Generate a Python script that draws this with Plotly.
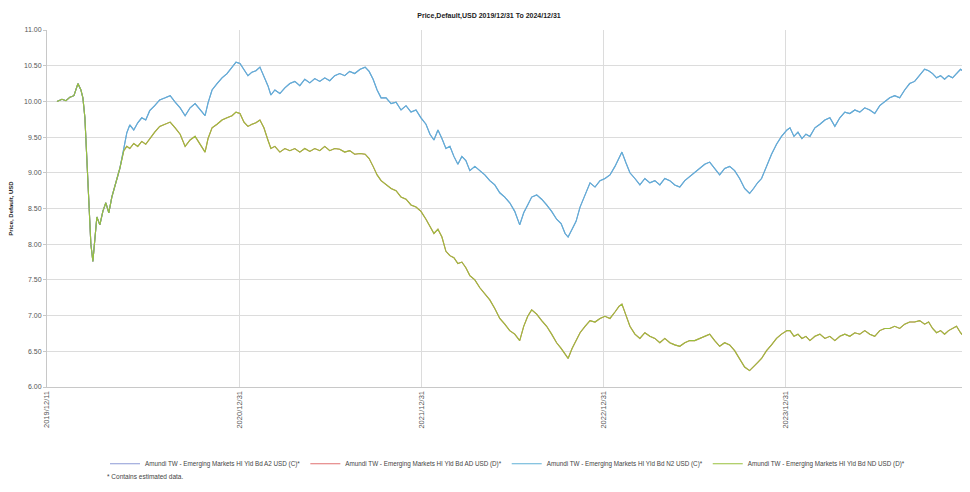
import plotly.graph_objects as go

title_text = "Price,Default,USD 2019/12/31 To 2024/12/31"
y_title = "Price, Default, USD"
series_names = [
    "Amundi TW - Emerging Markets HI Yld Bd A2 USD (C)*",
    "Amundi TW - Emerging Markets HI Yld Bd AD USD (D)*",
    "Amundi TW - Emerging Markets HI Yld Bd N2 USD (C)*",
    "Amundi TW - Emerging Markets HI Yld Bd ND USD (D)*",
]
footnote = "* Contains estimated data."

dates = [
    "2019-12-31", "2020-01-10", "2020-01-18", "2020-01-26", "2020-02-03", "2020-02-11", "2020-02-17",
    "2020-02-21", "2020-02-25", "2020-02-29", "2020-03-04", "2020-03-08", "2020-03-12", "2020-03-16",
    "2020-03-20", "2020-03-26", "2020-04-01", "2020-04-07", "2020-04-13", "2020-04-19", "2020-04-27",
    "2020-05-05",
    "2020-05-13", "2020-05-19", "2020-05-25", "2020-06-02", "2020-06-10", "2020-06-18", "2020-06-26",
    "2020-07-04", "2020-07-14", "2020-07-24", "2020-08-04", "2020-08-14", "2020-08-24", "2020-09-03",
    "2020-09-13", "2020-09-23", "2020-10-03", "2020-10-13", "2020-10-23", "2020-10-29", "2020-11-06",
    "2020-11-16", "2020-11-26", "2020-12-06", "2020-12-16", "2020-12-24", "2021-01-01", "2021-01-09",
    "2021-01-17", "2021-01-25", "2021-02-02", "2021-02-10", "2021-02-18", "2021-02-26", "2021-03-04",
    "2021-03-12", "2021-03-22", "2021-04-01", "2021-04-11", "2021-04-21", "2021-05-01", "2021-05-11",
    "2021-05-21", "2021-05-31", "2021-06-10", "2021-06-20", "2021-06-30", "2021-07-10", "2021-07-20",
    "2021-07-30", "2021-08-09", "2021-08-19", "2021-08-30", "2021-09-09", "2021-09-17", "2021-09-25",
    "2021-10-03", "2021-10-11", "2021-10-21", "2021-10-31", "2021-11-10", "2021-11-20", "2021-11-30",
    "2021-12-10", "2021-12-20", "2021-12-30", "2022-01-09", "2022-01-17", "2022-01-25", "2022-02-02",
    "2022-02-10", "2022-02-18", "2022-02-26", "2022-03-06", "2022-03-14", "2022-03-22", "2022-03-30",
    "2022-04-07", "2022-04-17", "2022-04-27", "2022-05-07", "2022-05-17", "2022-05-27", "2022-06-06",
    "2022-06-16", "2022-06-26", "2022-07-06", "2022-07-16", "2022-07-24", "2022-08-01", "2022-08-09",
    "2022-08-19", "2022-08-29", "2022-09-08", "2022-09-18", "2022-09-28", "2022-10-07", "2022-10-15",
    "2022-10-21", "2022-10-29", "2022-11-06", "2022-11-14", "2022-11-24", "2022-12-04", "2022-12-14",
    "2022-12-24", "2023-01-03", "2023-01-13", "2023-01-23", "2023-01-31", "2023-02-06", "2023-02-14",
    "2023-02-22", "2023-03-04", "2023-03-14", "2023-03-24", "2023-04-03", "2023-04-13", "2023-04-23",
    "2023-05-03", "2023-05-13", "2023-05-23", "2023-06-02", "2023-06-12", "2023-06-22", "2023-07-02",
    "2023-07-12", "2023-07-22", "2023-08-01", "2023-08-11", "2023-08-21", "2023-08-31", "2023-09-10",
    "2023-09-20", "2023-09-30", "2023-10-10", "2023-10-20", "2023-10-28", "2023-11-05", "2023-11-13",
    "2023-11-23", "2023-12-03", "2023-12-13", "2023-12-23", "2024-01-03", "2024-01-09", "2024-01-17",
    "2024-01-25", "2024-02-02", "2024-02-10", "2024-02-18", "2024-02-28", "2024-03-09", "2024-03-19",
    "2024-03-29", "2024-04-08", "2024-04-18", "2024-04-28", "2024-05-08", "2024-05-18", "2024-05-28",
    "2024-06-07", "2024-06-17", "2024-06-27", "2024-07-07", "2024-07-17", "2024-07-27", "2024-08-06",
    "2024-08-16", "2024-08-26", "2024-09-05", "2024-09-15", "2024-09-25", "2024-10-05", "2024-10-13",
    "2024-10-21", "2024-10-29", "2024-11-06", "2024-11-14", "2024-11-22", "2024-11-30", "2024-12-08",
    "2024-12-16", "2024-12-22", "2024-12-30",
]

# accumulating classes (A2 / N2)
acc_values = [
    10.00, 10.03, 10.01, 10.06, 10.08, 10.25, 10.16, 10.05, 9.77, 9.13, 8.42, 8.00, 7.76, 8.07,
    8.38, 8.27, 8.46, 8.58, 8.44, 8.66, 8.85, 9.06,
    9.34, 9.56, 9.67, 9.60, 9.70, 9.77, 9.74, 9.87, 9.94, 10.02, 10.05, 10.08, 9.99, 9.91,
    9.80, 9.91, 9.97, 9.88, 9.80, 9.98, 10.16, 10.25, 10.33, 10.39, 10.48, 10.55, 10.53, 10.45,
    10.36, 10.41, 10.43, 10.48, 10.36, 10.22, 10.09, 10.16, 10.11, 10.19, 10.25, 10.28, 10.22, 10.31,
    10.26, 10.32, 10.28, 10.33, 10.29, 10.36, 10.39, 10.36, 10.42, 10.39, 10.45, 10.48, 10.42, 10.31,
    10.16, 10.05, 10.05, 9.97, 9.99, 9.88, 9.94, 9.85, 9.88, 9.77, 9.68, 9.54, 9.46, 9.60,
    9.48, 9.34, 9.37, 9.23, 9.12, 9.23, 9.17, 9.03, 9.09, 9.03, 8.97, 8.89, 8.83, 8.72,
    8.66, 8.58, 8.46, 8.27, 8.44, 8.55, 8.66, 8.69, 8.63, 8.55, 8.46, 8.35, 8.29, 8.15,
    8.10, 8.21, 8.32, 8.52, 8.69, 8.86, 8.80, 8.89, 8.92, 8.97, 9.09, 9.20, 9.29, 9.14,
    9.00, 8.92, 8.83, 8.92, 8.86, 8.89, 8.83, 8.92, 8.89, 8.83, 8.80, 8.89, 8.95, 9.00,
    9.06, 9.12, 9.15, 9.06, 8.97, 9.06, 9.09, 9.03, 8.92, 8.78, 8.71, 8.78, 8.86, 8.92,
    9.09, 9.26, 9.40, 9.51, 9.60, 9.63, 9.51, 9.57, 9.48, 9.54, 9.51, 9.63, 9.68, 9.74,
    9.77, 9.65, 9.77, 9.85, 9.83, 9.88, 9.85, 9.91, 9.88, 9.83, 9.94, 9.99, 10.05, 10.08,
    10.05, 10.16, 10.25, 10.28, 10.36, 10.45, 10.43, 10.39, 10.33, 10.36, 10.31, 10.36, 10.33, 10.39,
    10.45, 10.42, 10.31,
]

# distributing classes (AD / ND)
dis_values = [
    10.00, 10.03, 10.01, 10.06, 10.08, 10.25, 10.16, 10.05, 9.77, 9.13, 8.42, 8.00, 7.76, 8.07,
    8.38, 8.27, 8.46, 8.58, 8.44, 8.66, 8.85, 9.06,
    9.31, 9.37, 9.34, 9.41, 9.37, 9.44, 9.40, 9.48, 9.57, 9.65, 9.68, 9.71, 9.63, 9.54,
    9.37, 9.46, 9.51, 9.40, 9.29, 9.48, 9.63, 9.68, 9.74, 9.77, 9.80, 9.85, 9.83, 9.71,
    9.65, 9.68, 9.70, 9.74, 9.63, 9.46, 9.34, 9.37, 9.29, 9.34, 9.31, 9.34, 9.29, 9.34,
    9.30, 9.34, 9.31, 9.37, 9.31, 9.34, 9.33, 9.29, 9.31, 9.26, 9.27, 9.26, 9.20, 9.09,
    8.97, 8.89, 8.83, 8.78, 8.75, 8.66, 8.63, 8.55, 8.52, 8.46, 8.35, 8.24, 8.15, 8.21,
    8.10, 7.90, 7.84, 7.81, 7.73, 7.75, 7.67, 7.56, 7.50, 7.39, 7.30, 7.22, 7.10, 6.96,
    6.88, 6.79, 6.74, 6.65, 6.85, 6.99, 7.08, 7.02, 6.93, 6.85, 6.74, 6.62, 6.54, 6.45,
    6.40, 6.54, 6.65, 6.76, 6.85, 6.93, 6.91, 6.96, 6.99, 6.96, 7.05, 7.13, 7.16, 6.99,
    6.85, 6.74, 6.68, 6.76, 6.71, 6.68, 6.62, 6.68, 6.62, 6.59, 6.57, 6.62, 6.65, 6.65,
    6.68, 6.71, 6.74, 6.65, 6.57, 6.62, 6.59, 6.51, 6.40, 6.28, 6.23, 6.28, 6.34, 6.40,
    6.51, 6.59, 6.68, 6.74, 6.79, 6.79, 6.71, 6.74, 6.68, 6.71, 6.65, 6.71, 6.74, 6.68,
    6.71, 6.65, 6.71, 6.74, 6.71, 6.76, 6.74, 6.79, 6.74, 6.71, 6.79, 6.82, 6.82, 6.85,
    6.82, 6.88, 6.91, 6.91, 6.93, 6.88, 6.91, 6.82, 6.76, 6.79, 6.74, 6.79, 6.82, 6.85,
    6.76, 6.71, 6.65,
]

tick_dates = ["2019-12-11", "2020-12-31", "2021-12-31", "2022-12-31", "2023-12-31", "2024-12-31"]
tick_labels = ["2019/12/11", "2020/12/31", "2021/12/31", "2022/12/31", "2023/12/31", "2024/12/31"]
y_ticks = [6.0, 6.5, 7.0, 7.5, 8.0, 8.5, 9.0, 9.5, 10.0, 10.5, 11.0]

colors = ["#8c9ad6", "#e07070", "#5fb0d6", "#98c03c"]
series_values = [acc_values, dis_values, acc_values, dis_values]

fig = go.Figure()
for name, vals, col in zip(series_names, series_values, colors):
    fig.add_trace(go.Scatter(x=dates, y=vals, mode="lines", name=name,
                             line=dict(color=col, width=1.1)))

font_family = "Liberation Sans, Arial, sans-serif"
# page body has an 8px margin, so the figure is offset by 8px in both directions
fig.update_layout(
    width=962, height=484,
    margin=dict(l=39, r=2, t=22, b=105, autoexpand=False),
    paper_bgcolor="white", plot_bgcolor="white",
    title=dict(text="<b>" + title_text + "</b>", x=0.5, xanchor="center", y=0.985, yanchor="middle",
               font=dict(size=7, color="#222", family=font_family)),
    font=dict(family=font_family, size=6, color="#444"),
    showlegend=True,
    legend=dict(orientation="h", x=0.5, xanchor="center", y=-0.215, yanchor="middle",
                font=dict(size=6.3, color="#444"), itemwidth=30, bgcolor="rgba(0,0,0,0)"),
    xaxis=dict(type="date", range=["2019-12-11", "2024-12-31"], tickvals=tick_dates, ticktext=tick_labels,
               tickangle=-90, showgrid=True, gridcolor="#dcdcdc", gridwidth=1, automargin=False,
               showline=True, linecolor="#c8c8c8", ticks="", tickfont=dict(size=7.5, color="#555"),
               zeroline=False),
    yaxis=dict(range=[6, 11], tickvals=y_ticks, tickformat=".2f", showgrid=True, gridcolor="#dcdcdc",
               showline=True, linecolor="#c8c8c8", ticks="outside", ticklen=3, tickcolor="#c8c8c8",
               tickfont=dict(size=7, color="#555"), zeroline=False, automargin=False,
               title=dict(text="<b>" + y_title + "</b>", font=dict(size=6, color="#222"), standoff=9)),
)
fig.add_annotation(text=footnote, xref="paper", yref="paper", x=0.063, y=-0.25, xanchor="left",
                   yanchor="middle", showarrow=False, font=dict(size=6.5, color="#444"))

fig.write_html("out.html")
